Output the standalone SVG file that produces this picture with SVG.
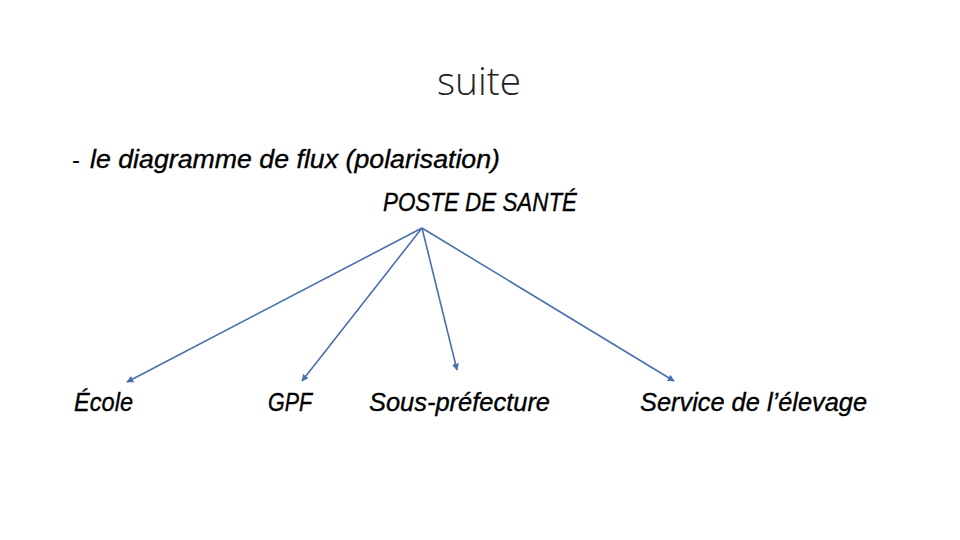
<svg xmlns="http://www.w3.org/2000/svg" width="960" height="540" viewBox="0 0 960 540">
<style>
.t{font-family:"Liberation Sans","Open Sans",sans-serif;font-style:italic;font-size:26px;fill:#000;stroke:#000;stroke-width:0.35}
.c{stroke:#4a6fae;stroke-width:1.6;fill:none}
</style>
<defs>
<marker id="ah" viewBox="0 0 10 10" refX="9" refY="5" markerWidth="7" markerHeight="7" orient="auto" markerUnits="userSpaceOnUse">
<path d="M0,0 L10,5 L0,10 z" fill="#4a6fae"/>
</marker>
</defs>
<rect width="960" height="540" fill="#fff"/>
<text x="437" y="95" font-family="Open Sans, Liberation Sans, sans-serif" font-weight="300" font-size="38" fill="#222" textLength="84" lengthAdjust="spacingAndGlyphs">suite</text>
<text x="72" y="168" font-family="Liberation Sans, sans-serif" font-size="24" fill="#000">-</text>
<text class="t" x="90" y="168" textLength="410" lengthAdjust="spacingAndGlyphs">le diagramme de flux (polarisation)</text>
<g id="poste"><text class="t" x="383" y="211" textLength="194" lengthAdjust="spacingAndGlyphs">POSTE DE SANTÉ</text></g>
<g id="ecole"><text class="t" x="74" y="411" textLength="59" lengthAdjust="spacingAndGlyphs">École</text></g>
<g id="gpf"><text class="t" x="268" y="411" textLength="44" lengthAdjust="spacingAndGlyphs">GPF</text></g>
<g id="sous"><text class="t" x="369" y="411" textLength="181" lengthAdjust="spacingAndGlyphs">Sous-préfecture</text></g>
<g id="service"><text class="t" x="640" y="411" textLength="227" lengthAdjust="spacingAndGlyphs">Service de l’élevage</text></g>
<g id="connectors">
<line class="c" x1="422" y1="228" x2="127" y2="382" marker-end="url(#ah)"/>
<line class="c" x1="422" y1="228" x2="302" y2="381" marker-end="url(#ah)"/>
<line class="c" x1="422" y1="228" x2="457" y2="370" marker-end="url(#ah)"/>
<line class="c" x1="422" y1="228" x2="674" y2="381" marker-end="url(#ah)"/>
</g>
</svg>
